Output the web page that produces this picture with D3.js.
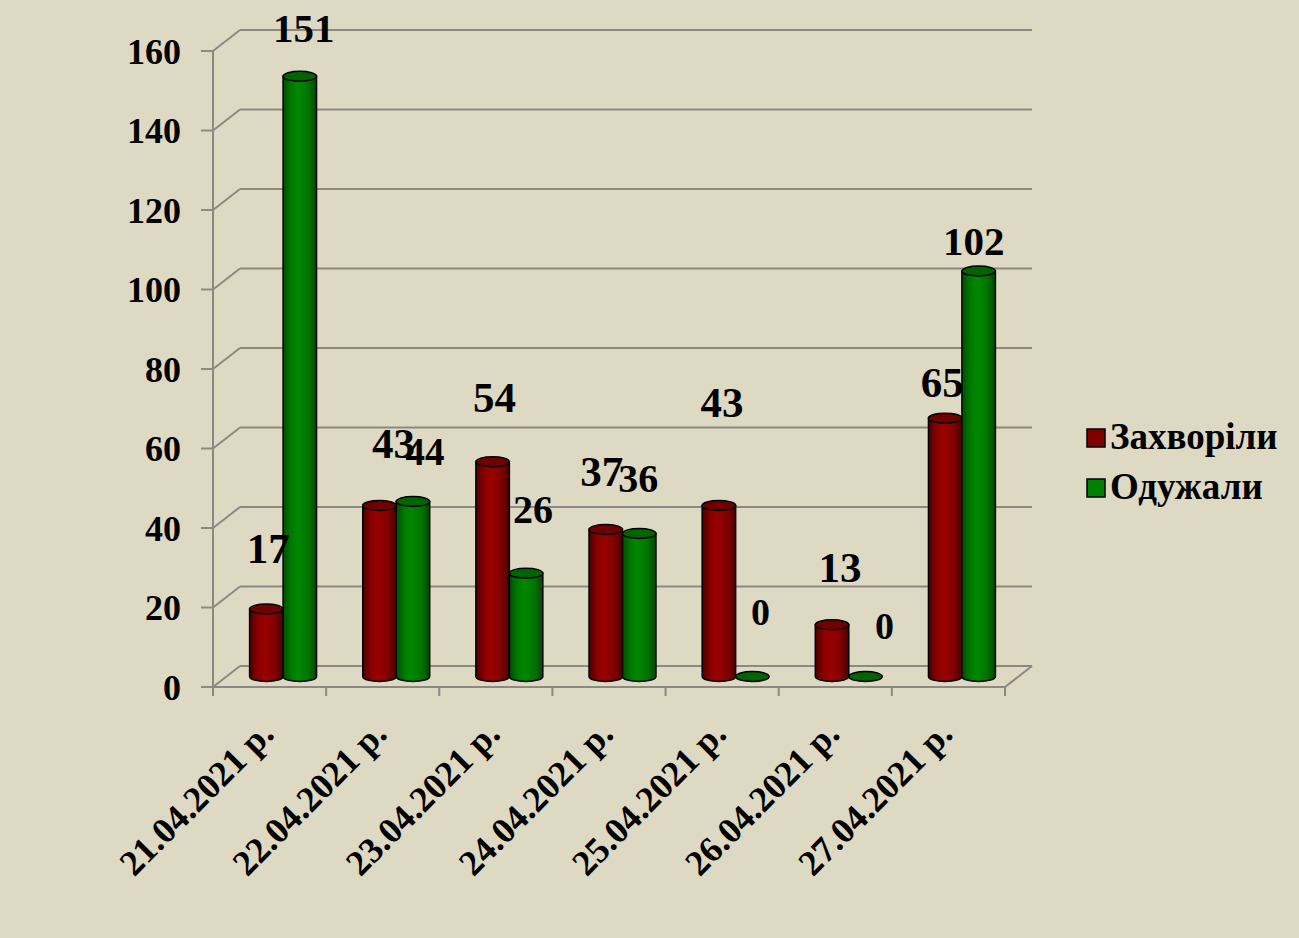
<!DOCTYPE html>
<html>
<head>
    <meta charset="utf-8">
    <title>Захворіли / Одужали</title>
    <script src="https://cdnjs.cloudflare.com/ajax/libs/d3/7.8.5/d3.min.js"></script>
    <style>
        html, body { margin: 0; padding: 0; background: #ddd9c3; }
        svg { display: block; }
        text { font-family: "Liberation Serif", "Times New Roman", serif; font-weight: bold; fill: #000; }
        .grid { stroke: #8c8983; stroke-width: 2px; fill: none; }
    </style>
</head>
<body>
<div id="chart"></div>
<script>
    // Chart data
    const dates = ["21.04.2021 р.", "22.04.2021 р.", "23.04.2021 р.", "24.04.2021 р.",
                   "25.04.2021 р.", "26.04.2021 р.", "27.04.2021 р."];
    const seriesNames = ["Захворіли", "Одужали"];
    const sick = [17, 43, 54, 37, 43, 13, 65];
    const recovered = [151, 44, 26, 36, 0, 0, 102];
    const yTicks = [0, 20, 40, 60, 80, 100, 120, 140, 160];

    // label nudges (dx, dy, font size) - the original labels are placed unevenly
    const sickLabelNudge = [[2, -6, 43], [14, -8, 43], [2, -10, 43], [-4, -3, 43], [3, -49, 43], [8, -3, 43], [-3, 19, 43]];
    const recLabelNudge = [[4, 6, 41], [12, 3, 39], [7, -10, 40], [-1, -1, 40], [8, -12, 38], [19, 2, 38], [-5, 24, 41]];

    const W = 1299, H = 938;
    const front = {left: 213, right: 1005, bottom: 687, top: 51};
    const depth = {dx: 27, dy: -21};
    const mid = {dx: depth.dx / 2, dy: depth.dy / 2};

    const svg = d3.select("#chart").append("svg")
        .attr("width", W).attr("height", H);

    svg.append("rect").attr("width", W).attr("height", H).attr("fill", "#ddd9c3");

    // gradients for the cylinders
    const defs = svg.append("defs");
    function cylGrad(id, stops) {
        const g = defs.append("linearGradient").attr("id", id)
            .attr("x1", "0%").attr("x2", "100%").attr("y1", "0%").attr("y2", "0%");
        stops.forEach(s => g.append("stop").attr("offset", s[0]).attr("stop-color", s[1]));
    }
    cylGrad("gRed", [["0%", "#4a0000"], ["25%", "#8a0000"], ["45%", "#9a0000"], ["75%", "#820000"], ["100%", "#4a0000"]]);
    cylGrad("gGreen", [["0%", "#004d00"], ["25%", "#007a00"], ["45%", "#008800"], ["75%", "#007400"], ["100%", "#004800"]]);
    const colors = [
        {body: "url(#gRed)", top: "#6e0000", legend: "#800000"},
        {body: "url(#gGreen)", top: "#006400", legend: "#008000"}
    ];

    // scales
    const y = d3.scaleLinear().domain([0, 160]).range([front.bottom, front.top]);
    const x0 = d3.scaleBand().domain(dates).range([front.left, front.right]).paddingInner(0).paddingOuter(0);
    const x1 = d3.scaleBand().domain(seriesNames).range([0, x0.bandwidth()]).paddingInner(0).paddingOuter(0.69);

    // back wall grid lines + left diagonals + tick marks
    const grid = svg.append("g");
    yTicks.forEach(v => {
        grid.append("line").attr("class", "grid")
            .attr("x1", front.left + depth.dx).attr("x2", front.right + depth.dx)
            .attr("y1", y(v) + depth.dy).attr("y2", y(v) + depth.dy);
        grid.append("line").attr("class", "grid")
            .attr("x1", front.left).attr("y1", y(v))
            .attr("x2", front.left + depth.dx).attr("y2", y(v) + depth.dy);
        grid.append("line").attr("class", "grid")
            .attr("x1", front.left - 12).attr("x2", front.left)
            .attr("y1", y(v)).attr("y2", y(v));
    });
    // vertical value axis
    grid.append("line").attr("class", "grid")
        .attr("x1", front.left).attr("x2", front.left)
        .attr("y1", y(160)).attr("y2", front.bottom + 9);
    // floor front edge and right side
    grid.append("line").attr("class", "grid")
        .attr("x1", front.left).attr("x2", front.right)
        .attr("y1", front.bottom).attr("y2", front.bottom);
    grid.append("line").attr("class", "grid")
        .attr("x1", front.right).attr("y1", front.bottom)
        .attr("x2", front.right + depth.dx).attr("y2", front.bottom + depth.dy);
    // category tick marks
    dates.forEach((d, i) => {
        const xx = x0(d) + x0.bandwidth();
        grid.append("line").attr("class", "grid")
            .attr("x1", xx).attr("x2", xx)
            .attr("y1", front.bottom).attr("y2", front.bottom + 9);
    });

    // y tick labels
    svg.append("g").selectAll("text").data(yTicks).join("text")
        .attr("x", 181).attr("y", d => y(d))
        .attr("dy", "0.35em")
        .attr("text-anchor", "end")
        .style("font-size", "36px")
        .text(d => d);

    // cylinders
    const ry = 5;
    const rows = [];
    dates.forEach((d, i) => {
        [sick[i], recovered[i]].forEach((v, s) => {
            rows.push({cat: d, i: i, s: s, v: v});
        });
    });

    const bars = svg.append("g");
    rows.forEach(r => {
        const xl = x0(r.cat) + x1(seriesNames[r.s]) + mid.dx;
        const w = x1.bandwidth();
        const rx = w / 2;
        const base = y(0) + mid.dy;
        const top = y(r.v) + mid.dy;
        const c = colors[r.s];
        if (r.v > 0) {
            bars.append("path")
                .attr("d", `M${xl},${top} L${xl},${base} A${rx},${ry} 0 0 0 ${xl + w},${base} L${xl + w},${top} Z`)
                .attr("fill", c.body)
                .attr("stroke", "#000").attr("stroke-width", 1.5);
        }
        bars.append("ellipse")
            .attr("cx", xl + rx).attr("cy", top)
            .attr("rx", rx).attr("ry", ry)
            .attr("fill", c.top)
            .attr("stroke", "#000").attr("stroke-width", 1.5);
    });

    // data labels
    const labels = svg.append("g");
    rows.forEach(r => {
        const nudge = r.s === 0 ? sickLabelNudge[r.i] : recLabelNudge[r.i];
        const cx = x0(r.cat) + x1(seriesNames[r.s]) + x1.bandwidth() / 2 + mid.dx;
        const top = y(r.v) + mid.dy;
        labels.append("text")
            .attr("x", cx + nudge[0])
            .attr("y", top - 40 + nudge[1])
            .attr("text-anchor", "middle")
            .style("font-size", nudge[2] + "px")
            .text(r.v);
    });

    // category labels, rotated
    svg.append("g").selectAll("text").data(dates).join("text")
        .attr("text-anchor", "end")
        .attr("transform", d => `translate(${x0(d) + x0.bandwidth() / 2 + 6},${736}) rotate(-45)`)
        .style("font-size", "36px")
        .text(d => d);

    // legend
    const legend = svg.append("g").attr("transform", "translate(1087,429)");
    seriesNames.forEach((name, s) => {
        const g = legend.append("g").attr("transform", `translate(0,${s * 50})`);
        g.append("rect").attr("width", 18).attr("height", 18)
            .attr("fill", colors[s].legend).attr("stroke", "#000").attr("stroke-width", 1.5);
        g.append("text").attr("x", 23).attr("y", 20)
            .style("font-size", "37px")
            .text(name);
    });
</script>
</body>
</html>
